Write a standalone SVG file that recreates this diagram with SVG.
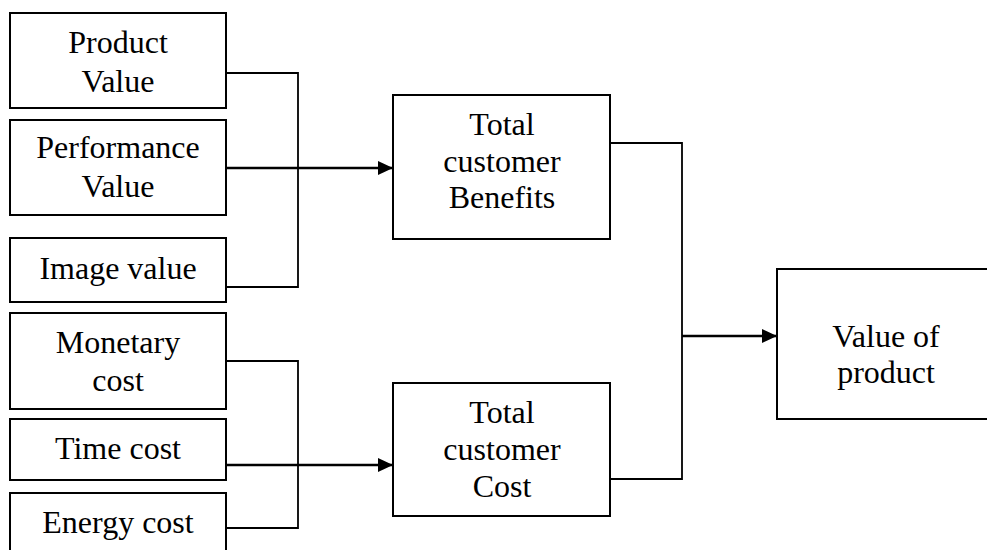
<svg xmlns="http://www.w3.org/2000/svg" width="987" height="550" viewBox="0 0 987 550">
<style>
.box{fill:#fff;stroke:#000;stroke-width:2}
.t{font-family:"Liberation Serif","Times New Roman",serif;font-size:32px;fill:#000;text-anchor:middle}
.br{fill:none;stroke:#000;stroke-width:1.8}
.ar{fill:none;stroke:#000;stroke-width:2.4}
</style>
<defs>
<marker id="ah" markerUnits="userSpaceOnUse" markerWidth="16" markerHeight="14" refX="15" refY="7" orient="auto">
<path d="M0,0 L15,7 L0,14 Z" fill="#000"/>
</marker>
</defs>
<rect width="987" height="550" fill="#fff"/>
<g id="connectors">
<polyline class="br" points="227,73 298,73 298,287 227,287"/>
<line class="ar" x1="227" y1="168" x2="393" y2="168" marker-end="url(#ah)"/>
<polyline class="br" points="227,361 298,361 298,528 227,528"/>
<line class="ar" x1="227" y1="465" x2="393" y2="465" marker-end="url(#ah)"/>
<polyline class="br" points="611,143 682,143 682,479 611,479"/>
<line class="ar" x1="682" y1="336" x2="777" y2="336" marker-end="url(#ah)"/>
</g>
<g id="product-value">
<rect class="box" x="10" y="13" width="216" height="95"/>
<text class="t" x="118" y="53">Product</text>
<text class="t" x="118" y="92">Value</text>
</g>
<g id="performance-value">
<rect class="box" x="10" y="120" width="216" height="95"/>
<text class="t" x="118" y="158">Performance</text>
<text class="t" x="118" y="197">Value</text>
</g>
<g id="image-value">
<rect class="box" x="10" y="238" width="216" height="64"/>
<text class="t" x="118" y="279">Image value</text>
</g>
<g id="monetary-cost">
<rect class="box" x="10" y="313" width="216" height="96"/>
<text class="t" x="118" y="353">Monetary</text>
<text class="t" x="118" y="391">cost</text>
</g>
<g id="time-cost">
<rect class="box" x="10" y="419" width="216" height="61"/>
<text class="t" x="118" y="459">Time cost</text>
</g>
<g id="energy-cost">
<rect class="box" x="10" y="493" width="216" height="70"/>
<text class="t" x="118" y="533">Energy cost</text>
</g>
<g id="total-benefits">
<rect class="box" x="393" y="95" width="217" height="144"/>
<text class="t" x="502" y="135">Total</text>
<text class="t" x="502" y="172">customer</text>
<text class="t" x="502" y="208">Benefits</text>
</g>
<g id="total-cost">
<rect class="box" x="393" y="383" width="217" height="133"/>
<text class="t" x="502" y="423">Total</text>
<text class="t" x="502" y="460">customer</text>
<text class="t" x="502" y="497">Cost</text>
</g>
<g id="value-of-product">
<rect class="box" x="777" y="269" width="219" height="150"/>
<text class="t" x="886" y="347">Value of</text>
<text class="t" x="886" y="383">product</text>
</g>
</svg>
